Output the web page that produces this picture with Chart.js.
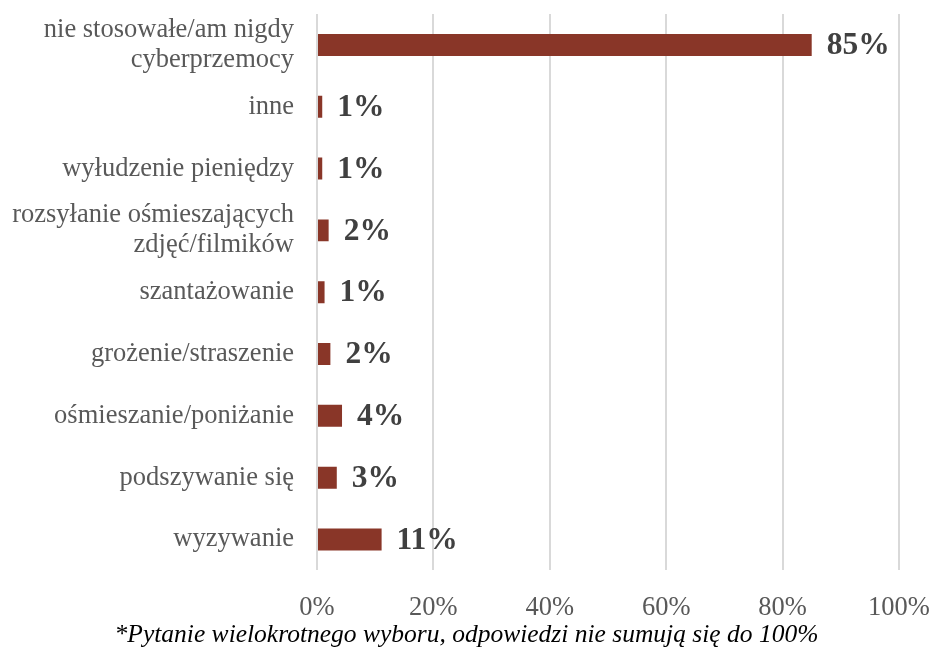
<!DOCTYPE html>
<html>
<head>
<meta charset="utf-8">
<script src="https://cdn.jsdelivr.net/npm/chart.js@4/dist/chart.umd.min.js"></script>
<style>
  html,body{margin:0;padding:0;background:#fff;}
  #wrap{width:933px;height:655px;}
</style>
</head>
<body>
<div id="wrap"><canvas id="chart" width="933" height="655"></canvas></div>
<script>
const categories = [
  ["nie stosowałe/am nigdy","cyberprzemocy"],
  "inne",
  "wyłudzenie pieniędzy",
  ["rozsyłanie ośmieszających","zdjęć/filmików"],
  "szantażowanie",
  "grożenie/straszenie",
  "ośmieszanie/poniżanie",
  "podszywanie się",
  "wyzywanie"
];
const values = [85, 0.9, 0.9, 2.0, 1.3, 2.3, 4.3, 3.4, 11.1];
const tickValues = [0, 20, 40, 60, 80, 100];
const footnote = "*Pytanie wielokrotnego wyboru, odpowiedzi nie sumują się do 100%";

const SERIF = "'Liberation Serif', 'Times New Roman', serif";

// etykiety przy słupkach
const barLabels = {
  id:"barLabels",
  afterDatasetsDraw(chart){
    const ctx = chart.ctx;
    const meta = chart.getDatasetMeta(0);
    ctx.save();
    ctx.font = "bold 31.5px " + SERIF;
    ctx.fillStyle = "#404040";
    ctx.textBaseline = "middle";
    ctx.textAlign = "left";
    meta.data.forEach((bar,i)=>{
      ctx.fillText(Math.round(values[i]) + "%", bar.x + 15, bar.y + 1);
    });
    ctx.restore();
  }
};

new Chart(document.getElementById("chart"),{
  type:"bar",
  data:{
    labels:categories,
    datasets:[{
      data:values,
      backgroundColor:"#893628",
      categoryPercentage:1,
      barPercentage:0.355
    }]
  },
  options:{
    indexAxis:"y",
    responsive:false,
    animation:false,
    layout:{padding:{top:14,right:0,left:0,bottom:0}},
    plugins:{
      legend:{display:false},
      tooltip:{enabled:false},
      title:{
        display:true,
        position:"bottom",
        text:footnote,
        color:"#000",
        font:{family:SERIF,size:25.5,style:"italic",weight:"normal",lineHeight:1.2},
        padding:{top:0,bottom:4}
      }
    },
    scales:{
      x:{
        min:0,max:100,
        afterBuildTicks:s=>{ s.ticks = tickValues.map(v=>({value:v})); },
        afterFit:s=>{ s.height = 50; s.paddingLeft = 0; s.paddingRight = 34; },
        grid:{color:"#d9d9d9",lineWidth:2,drawTicks:false},
        border:{display:false},
        ticks:{
          padding:22,
          maxRotation:0,
          color:"#595959",
          font:{family:SERIF,size:26.5,lineHeight:1.2},
          callback:v=>v+"%"
        }
      },
      y:{
        afterFit:s=>{ s.width = 317; s.paddingTop = 0; s.paddingBottom = 0; },
        grid:{display:false},
        border:{display:false},
        ticks:{
          autoSkip:false,
          padding:15,
          color:"#595959",
          font:{family:SERIF,size:26.5,lineHeight:1.13}
        }
      }
    }
  },
  plugins:[barLabels]
});
</script>
</body>
</html>
